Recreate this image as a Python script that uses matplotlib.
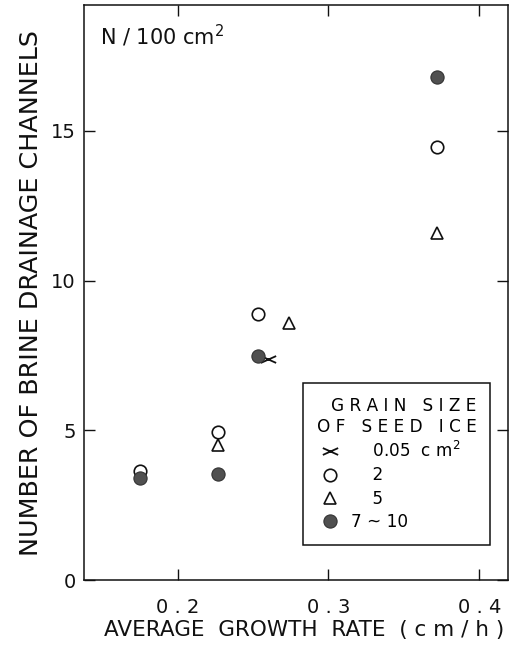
import matplotlib
matplotlib.use("Agg")
import matplotlib.pyplot as plt
from matplotlib.path import Path

# growth rate (cm/h) vs number of brine drainage channels per 100 cm^2
cross_x = [0.260]
cross_y = [7.4]
circle_x = [0.175, 0.227, 0.253, 0.372]
circle_y = [3.65, 4.95, 8.9, 14.45]
tri_x = [0.227, 0.274, 0.372]
tri_y = [4.5, 8.6, 11.6]
dot_x = [0.175, 0.227, 0.253, 0.372]
dot_y = [3.4, 3.55, 7.5, 16.8]

labels = ["    0.05  c m$^2$", "    2", "    5", "7 ~ 10"]
legend_title = "G R A I N   S I Z E\nO F   S E E D   I C E"
xticks = [0.2, 0.3, 0.4]
xticklabels = ["0 . 2", "0 . 3", "0 . 4"]
yticks = [0, 5, 10, 15]

INK = "#111111"
FILL = "#505050"

# sideways cross, like ><
cross = Path([(-1, 0.45), (1, -0.45), (-1, -0.45), (1, 0.45)],
             [Path.MOVETO, Path.LINETO, Path.MOVETO, Path.LINETO])

fig = plt.figure(figsize=(5.1, 6.54), dpi=100)
ax = fig.add_axes([0.165, 0.113, 0.831, 0.879])

ax.plot(cross_x, cross_y, ls="none", marker=cross, ms=11, mfc="none", mec=INK, mew=1.3, label=labels[0])
ax.plot(circle_x, circle_y, ls="none", marker="o", ms=9, mfc="white", mec=INK, mew=1.2, label=labels[1])
ax.plot(tri_x, tri_y, ls="none", marker="^", ms=8, mfc="white", mec=INK, mew=1.2, label=labels[2])
ax.plot(dot_x, dot_y, ls="none", marker="o", ms=9.5, mfc=FILL, mec="#333333", mew=0.8, label=labels[3])

ax.set_xlim(0.138, 0.419)
ax.set_ylim(0, 19.2)
ax.set_xticks(xticks)
ax.set_xticklabels(xticklabels)
ax.set_yticks(yticks)
ax.tick_params(direction="in", length=8, width=1, top=True, right=True,
               labelsize=14, colors=INK)
ax.tick_params(axis="x", pad=13)
ax.tick_params(axis="y", pad=6)
for s in ax.spines.values():
    s.set_linewidth(1.1)
    s.set_color(INK)

ax.set_xlabel("AVERAGE  GROWTH  RATE  ( c m / h )", fontsize=15.5, color=INK, labelpad=2)
ax.xaxis.label.set_x(0.52)
ax.set_ylabel("NUMBER OF BRINE DRAINAGE CHANNELS", fontsize=18.3, color=INK, labelpad=6)
ax.text(0.038, 0.947, "N / 100 cm$^2$", transform=ax.transAxes, fontsize=15,
        ha="left", va="center", color=INK)

leg = ax.legend(title=legend_title, loc="upper left",
                bbox_to_anchor=(0.5165, 0.3426), borderaxespad=0, fancybox=False,
                edgecolor=INK, fontsize=12.2, title_fontsize=12.2, handletextpad=0.42,
                labelspacing=0.32, borderpad=0.8, handlelength=1.6)
leg.get_frame().set_linewidth(1.1)
leg.get_frame().set_alpha(1)
leg.get_title().set_multialignment("right")
leg._legend_box.align = "left"

fig.savefig("out.png", dpi=100)
